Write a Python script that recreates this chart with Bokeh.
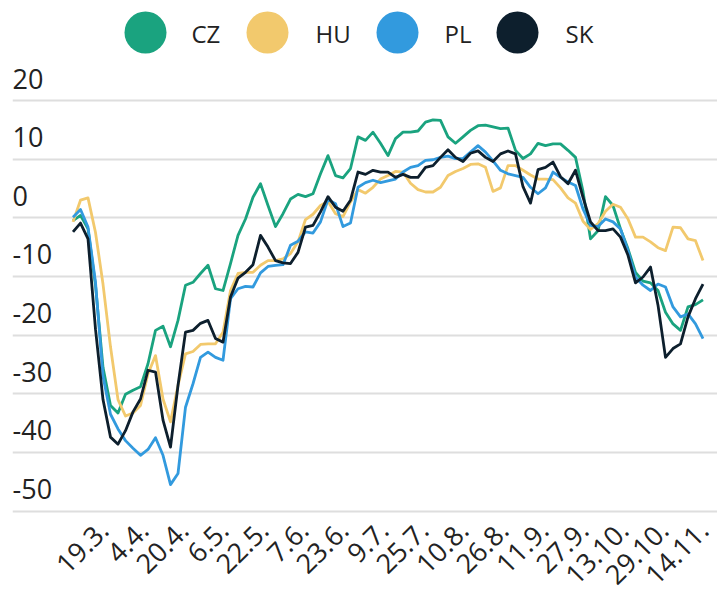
from datetime import datetime, timedelta
from math import pi

from bokeh.plotting import figure
from bokeh.models import Range1d, FixedTicker
from bokeh.core.properties import value
from bokeh.embed import file_html
from bokeh.resources import INLINE

# ---------------- data ----------------
series_names = ["CZ", "HU", "PL", "SK"]
series_colors = ["#1aa37f", "#f2c96d", "#329ade", "#0d1f2d"]

first_day = datetime(2020, 3, 6)
step_days = 3
dates = [first_day + timedelta(days=step_days * i) for i in range(85)]

cz = [-0.5, 0.4, -1.9, -11.5, -25.5, -32.0, -33.3, -30.1, -29.4, -28.8,
      -24.9, -19.2, -18.5, -22.0, -17.5, -11.5, -11.0, -9.5, -8.1, -12.1,
      -12.4, -7.8, -3.0, -0.2, 3.5, 5.8, 2.1, -1.5, 0.7, 3.2,
      4.0, 3.6, 4.1, 7.5, 10.6, 7.2, 6.8, 8.4, 13.8, 13.2,
      14.6, 12.7, 10.6, 13.5, 14.6, 14.6, 14.8, 16.3, 16.7, 16.6,
      13.8, 12.7, 13.8, 14.9, 15.7, 15.8, 15.5, 15.2, 15.3, 11.5,
      10.1, 10.9, 12.7, 12.3, 12.6, 12.6, 11.5, 10.3, 4.5, -3.6,
      -2.2, 3.6, 2.1, -1.9, -5.3, -9.3, -10.8, -11.1, -12.4, -16.1,
      -18.1, -19.2, -15.2, -14.8, -14.0]

hu = [-0.7, 3.0, 3.4, -2.5, -11.3, -22.0, -31.0, -33.8, -33.3, -32.0,
      -26.6, -23.5, -30.9, -34.8, -28.6, -23.2, -22.8, -21.6, -21.5, -21.5,
      -19.5, -12.4, -9.5, -9.3, -9.3, -8.1, -7.3, -7.3, -7.0, -6.1,
      -4.1, -0.3, 0.6, 2.1, 2.8, 0.7, 0.2, 2.7, 4.8, 4.2,
      5.2, 6.6, 7.2, 7.9, 7.8, 5.9, 4.8, 4.4, 4.4, 5.2,
      7.2, 7.9, 8.4, 9.1, 9.2, 8.6, 4.5, 5.1, 8.9, 8.9,
      8.1, 7.3, 6.6, 6.6, 6.5, 5.1, 3.4, 2.5, -0.6, -2.0,
      -1.0, 1.1, 2.3, 1.8, -0.2, -3.3, -3.3, -4.1, -5.1, -5.6,
      -1.6, -1.7, -3.6, -3.9, -7.3]

pl = [0.1, 1.4, -1.6, -11.0, -27.0, -33.5, -36.0, -38.0, -39.3, -40.5,
      -39.5, -37.5, -40.5, -45.5, -43.6, -32.3, -28.3, -23.8, -22.9, -23.8,
      -24.3, -13.8, -12.1, -11.7, -11.8, -9.4, -8.3, -8.1, -8.0, -4.7,
      -4.0, -2.4, -2.6, -0.7, 3.1, 2.4, -1.5, -0.9, 5.2, 6.0,
      6.4, 6.0, 6.3, 6.6, 7.8, 8.6, 8.9, 9.8, 9.9, 10.3,
      10.5, 10.1, 10.1, 11.2, 12.3, 11.2, 9.7, 8.1, 7.5, 7.2,
      6.9, 5.2, 4.1, 5.1, 7.8, 6.9, 6.1, 5.5, 1.5, -1.3,
      -1.5, -0.2, -0.7, -1.9, -5.6, -10.1, -11.5, -12.4, -11.3, -11.8,
      -15.2, -16.9, -16.4, -18.1, -20.6]

sk = [-2.4, -0.9, -3.6, -19.0, -31.0, -37.4, -38.6, -36.3, -33.1, -30.9,
      -26.0, -26.3, -34.5, -39.1, -28.6, -19.5, -19.2, -18.0, -17.5, -20.6,
      -21.2, -13.5, -10.3, -9.3, -8.0, -3.0, -5.0, -7.3, -7.7, -7.8,
      -5.9, -1.6, -1.3, 1.0, 3.6, 1.8, 1.1, 3.0, 7.8, 7.4,
      8.1, 7.8, 7.8, 6.9, 7.4, 6.9, 6.9, 8.6, 8.9, 10.3,
      11.6, 10.3, 9.6, 11.0, 11.4, 10.3, 9.6, 10.9, 11.4, 10.9,
      5.3, 2.5, 8.2, 8.6, 9.5, 7.0, 5.8, 8.1, 3.5, -0.7,
      -2.2, -2.2, -1.9, -3.3, -6.4, -11.1, -10.1, -8.4, -14.9, -23.8,
      -22.3, -21.5, -16.9, -13.8, -11.3]

series_values = [cz, hu, pl, sk]

y_ticks = [20, 10, 0, -10, -20, -30, -40, -50]
y_tick_labels = ["20", "10", "0", "-10", "-20", "-30", "-40", "-50"]

x_tick_dates = ["2020-03-19", "2020-04-04", "2020-04-20", "2020-05-06",
                "2020-05-22", "2020-06-07", "2020-06-23", "2020-07-09",
                "2020-07-25", "2020-08-10", "2020-08-26", "2020-09-11",
                "2020-09-27", "2020-10-13", "2020-10-29", "2020-11-14"]
x_tick_labels = ["19.3.", "4.4.", "20.4.", "6.5.", "22.5.", "7.6.", "23.6.",
                 "9.7.", "25.7.", "10.8.", "26.8.", "11.9.", "27.9.",
                 "13.10.", "29.10.", "14.11."]

# ---------------- layout constants ----------------
W, H = 717, 598
LEFT = 12
FONT = value("Open Sans")
TEXT_COLOR = "#222222"

origin = datetime(2020, 3, 19)
px_per_day = 2.5
origin_px = 105.0
x_start = origin + timedelta(days=(LEFT - origin_px) / px_per_day)
x_end = origin + timedelta(days=(W - origin_px) / px_per_day)

grid_top_px, grid_bottom_px = 100.0, 510.5
px_per_unit = (grid_bottom_px - grid_top_px) / 70.0
top_val = 20 + grid_top_px / px_per_unit
bottom_val = -50 - (H - grid_bottom_px) / px_per_unit

p = figure(width=W, height=H, x_axis_type="datetime",
           x_axis_location=None, y_axis_location=None,
           x_range=Range1d(x_start, x_end),
           y_range=Range1d(bottom_val, top_val),
           toolbar_location=None, output_backend="svg",
           min_border=0, min_border_left=LEFT)
p.outline_line_color = None
p.background_fill_color = "white"
p.border_fill_color = "white"

p.extra_x_ranges = {"px": Range1d(LEFT, W)}
p.extra_y_ranges = {"px": Range1d(H, 0)}

p.xgrid.grid_line_color = None
p.ygrid.ticker = FixedTicker(ticks=y_ticks)
p.ygrid.grid_line_color = "#dedede"
p.ygrid.grid_line_width = 2

# lines
for name, col, vals in zip(series_names, series_colors, series_values):
    p.line(dates, vals, line_color=col, line_width=2.8, line_join="round")

# y labels (above gridlines, inside plot)
lift = 22.0 / px_per_unit
p.text(x=[LEFT] * len(y_ticks), y=[t + lift for t in y_ticks],
       text=y_tick_labels, x_range_name="px", text_font=FONT,
       text_font_size="27px", text_color=TEXT_COLOR, text_align="left",
       text_baseline="alphabetic")

# x labels (rotated 45 degrees)
x_tick_px = [origin_px - 2 + px_per_day *
             (datetime.strptime(s, "%Y-%m-%d") - origin).days
             for s in x_tick_dates]
p.text(x=x_tick_px, y=[525] * len(x_tick_px), text=x_tick_labels,
       x_range_name="px", y_range_name="px", angle=pi / 4,
       text_font=FONT, text_font_size="27px", text_color=TEXT_COLOR,
       text_align="right", text_baseline="alphabetic")

# legend
legend_circle_x = [145, 267, 397, 517]
legend_text_x = [191, 315, 444, 565]
p.scatter(x=legend_circle_x, y=[32] * 4, size=42, marker="circle",
          fill_color=series_colors, line_color=None,
          x_range_name="px", y_range_name="px")
p.text(x=legend_text_x, y=[33] * 4, text=series_names,
       x_range_name="px", y_range_name="px", text_font=FONT,
       text_font_size="24px", text_color=TEXT_COLOR,
       text_align="left", text_baseline="middle")

open("out.html", "w").write(file_html(p, INLINE))
